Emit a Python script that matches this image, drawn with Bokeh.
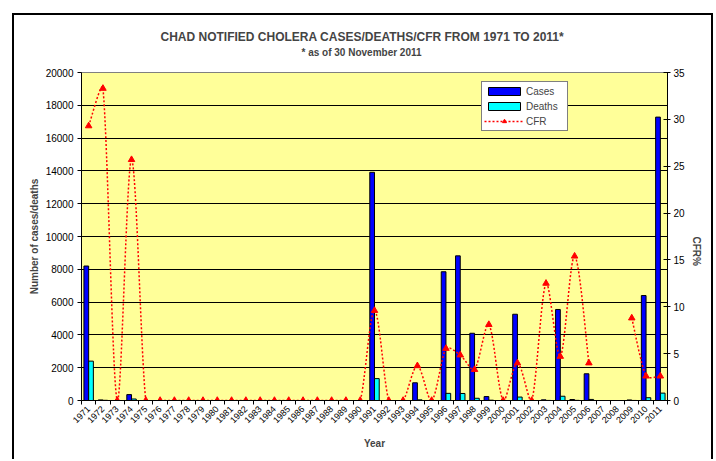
import math
import numpy as np
from bokeh.plotting import figure
from bokeh.models import (Range1d, LinearAxis, FixedTicker, Legend, LegendItem, Title,
                          ColumnDataSource)
from bokeh.transform import dodge
from bokeh.embed import file_html
from bokeh.resources import INLINE

# ---------------- data ----------------
years = list(range(1971, 2012))
cases = [8200, 36, 0, 360, 0,
         0, 0, 0, 0, 0, 0, 0, 0, 0, 0, 0, 0, 0, 0, 0,
         13915, 0, 0, 1080, 0, 7850, 8820, 4100, 240, 0,
         5260, 0, 40, 5550, 60, 1630, 0, 0, 34, 6400, 17280]
deaths = [2400, 12, 0, 92, 0,
          0, 0, 0, 0, 0, 0, 0, 0, 0, 0, 0, 0, 0, 0, 0,
          1335, 0, 0, 40, 0, 436, 428, 136, 20, 0,
          210, 0, 5, 260, 9, 65, 0, 0, 3, 170, 450]
cfr = [29.3, 33.3, 0, 25.7, 0,
       0, 0, 0, 0, 0, 0, 0, 0, 0, 0, 0, 0, 0, 0, 0,
       9.6, 0, 0, 3.7, 0, 5.55, 4.85, 3.3, 8.1, 0,
       4.0, 0, 12.5, 4.7, 15.4, 4.0, None, None, 8.8, 2.6, 2.6]
left_ticks = list(range(0, 20001, 2000))
right_ticks = list(range(0, 36, 5))

FONT = "Liberation Sans"
n = len(years)
idx = list(range(n))
FW, FH = 586, 328
YMAX_L, YMAX_R = 20000, 35

p = figure(frame_width=FW, frame_height=FH,
           x_range=Range1d(-0.5, n - 0.5), y_range=Range1d(0, YMAX_L),
           output_backend="svg", toolbar_location=None,
           min_border_left=67, min_border_right=44, min_border_top=57, min_border_bottom=61,
           background_fill_color="#FFFF99", border_fill_color="white",
           outline_line_color="#808080", outline_line_width=1)
p.extra_y_ranges = {"cfr": Range1d(0, YMAX_R)}
p.styles = {"position": "relative", "left": "14px", "top": "15px",
            "box-shadow": "-2px -2px 0 0 black, 2px -2px 0 0 black"}

src = ColumnDataSource(dict(x=idx, cases=cases, deaths=deaths))
r_cases = p.vbar(x=dodge("x", -0.165, range=p.x_range), top="cases", width=0.33, source=src,
                 fill_color="#0000FF", line_color="black", line_width=1)
r_deaths = p.vbar(x=dodge("x", 0.165, range=p.x_range), top="deaths", width=0.33, source=src,
                  fill_color="#00FFFF", line_color="black", line_width=1)

# smoothed CFR line: Bezier segments, control points derived from neighbouring data points
cf = np.array([np.nan if v is None else v for v in cfr], dtype=float)
sx, sy = FW / n, FH / YMAX_R   # pixel scale, used only to weight tangent lengths


def dist(i, j):
    return math.hypot((j - i) * sx, (cf[j] - cf[i]) * sy)


def ctrl(i, toward, other):
    a = other if other is not None else i
    b = toward
    lo, hi = (a, b) if toward > i else (b, a)
    tx, ty = hi - lo, cf[hi] - cf[lo]
    f = 1.0 / 6.0
    if other is not None:
        d1, d2 = dist(i, toward), dist(i, other)
        f *= min(1.0, 2.0 * d1 / (d1 + d2))
    s = 1.0 if toward > i else -1.0
    return i + s * f * tx, cf[i] + s * f * ty


def valid(k):
    return 0 <= k < n and not np.isnan(cf[k])


seg = dict(x0=[], y0=[], x1=[], y1=[], cx0=[], cy0=[], cx1=[], cy1=[])
for i in range(n - 1):
    if not (valid(i) and valid(i + 1)):
        continue
    c0 = ctrl(i, i + 1, i - 1 if valid(i - 1) else None)
    c1 = ctrl(i + 1, i, i + 2 if valid(i + 2) else None)
    seg["x0"].append(i); seg["y0"].append(cf[i])
    seg["x1"].append(i + 1); seg["y1"].append(cf[i + 1])
    seg["cx0"].append(c0[0]); seg["cy0"].append(c0[1])
    seg["cx1"].append(c1[0]); seg["cy1"].append(c1[1])

r_line = p.bezier(x0="x0", y0="y0", x1="x1", y1="y1", cx0="cx0", cy0="cy0", cx1="cx1", cy1="cy1",
                  source=ColumnDataSource(seg), y_range_name="cfr",
                  line_color="#FF0000", line_width=1.5, line_dash="2 2")
r_tri = p.scatter(x=idx, y=cf, marker="triangle", size=6.5, fill_color="#FF0000",
                  line_color="#FF0000", y_range_name="cfr")

# axes
xa = p.xaxis[0]
xa.ticker = FixedTicker(ticks=idx, minor_ticks=[i - 0.5 for i in range(n + 1)])
xa.major_label_overrides = {i: str(y) for i, y in zip(idx, years)}
xa.major_label_orientation = math.pi / 4
xa.major_tick_out = 0
xa.major_tick_in = 0
xa.minor_tick_out = 4
xa.minor_tick_in = 0
xa.minor_tick_line_color = "black"
xa.axis_line_color = "black"
xa.major_label_text_font = FONT
xa.major_label_text_font_size = "9px"
xa.major_label_text_color = "black"
xa.major_label_standoff = 3
xa.axis_label = "Year"
xa.axis_label_text_font = FONT
xa.axis_label_text_font_size = "10px"
xa.axis_label_text_font_style = "bold"
xa.axis_label_standoff = 9

ya = p.yaxis[0]
ya.ticker = FixedTicker(ticks=left_ticks, minor_ticks=[])
ya.major_tick_out = 4
ya.major_tick_in = 0
ya.minor_tick_out = 0
ya.axis_line_color = "black"
ya.major_label_text_font = FONT
ya.major_label_text_font_size = "10px"
ya.major_label_text_color = "black"
ya.major_label_standoff = 4
ya.axis_label = "Number of cases/deaths"
ya.axis_label_text_font = FONT
ya.axis_label_text_font_size = "10px"
ya.axis_label_text_font_style = "bold"
ya.axis_label_standoff = 3

ra = LinearAxis(y_range_name="cfr", ticker=FixedTicker(ticks=right_ticks, minor_ticks=[]),
                major_tick_in=4, major_tick_out=3, minor_tick_in=0, minor_tick_out=0,
                axis_line_color="black", major_label_text_font=FONT,
                major_label_text_font_size="10px", major_label_text_color="black",
                major_label_standoff=3, axis_label="CFR%", axis_label_text_font=FONT,
                axis_label_text_font_size="10px", axis_label_text_font_style="bold",
                axis_label_standoff=9)
if "axis_label_orientation" in ra.properties():
    ra.axis_label_orientation = -math.pi / 2
p.add_layout(ra, "right")

p.xgrid.visible = False
p.ygrid.ticker = FixedTicker(ticks=left_ticks)
p.ygrid.grid_line_color = "black"
p.ygrid.grid_line_width = 1

legend = Legend(items=[LegendItem(label="Cases", renderers=[r_cases]),
                       LegendItem(label="Deaths", renderers=[r_deaths]),
                       LegendItem(label="CFR", renderers=[r_line, r_tri])],
                location=(400, 269), margin=0, padding=2, spacing=1,
                label_height=14, glyph_height=10, glyph_width=40, label_standoff=2,
                label_width=39, border_line_color="black", border_line_width=1,
                background_fill_color="white", background_fill_alpha=1,
                label_text_font=FONT, label_text_font_size="10px")
p.add_layout(legend)

# titles: main title outermost, subtitle nearest the frame
p.title.text = "CHAD NOTIFIED CHOLERA CASES/DEATHS/CFR FROM 1971 TO 2011*"
p.title.align = "left"
p.title.offset = 79
p.title.standoff = -29
p.title.text_font = FONT
p.title.text_font_size = "12px"
p.title.text_font_style = "bold"
p.add_layout(Title(text="* as of 30 November 2011", align="left", offset=220, standoff=30,
                   text_font=FONT, text_font_size="10px", text_font_style="bold"), "above")

open("out.html", "w").write(file_html(p, INLINE))
